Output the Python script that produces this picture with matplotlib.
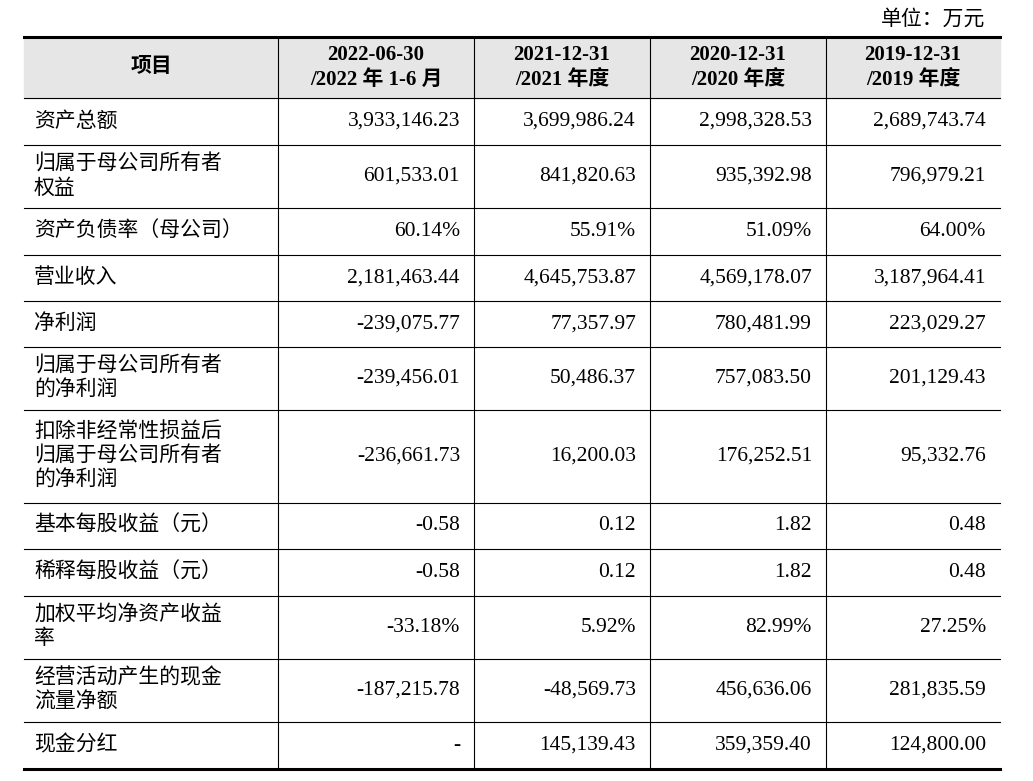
import matplotlib
matplotlib.use("Agg")
import matplotlib.pyplot as plt

unit = "单位：万元"
headers = ["项目", "2022-06-30\n/2022 年 1-6 月", "2021-12-31\n/2021 年度", "2020-12-31\n/2020 年度", "2019-12-31\n/2019 年度"]
items = ["资产总额", "归属于母公司所有者\n权益", "资产负债率（母公司）", "营业收入", "净利润",
         "归属于母公司所有者\n的净利润", "扣除非经常性损益后\n归属于母公司所有者\n的净利润",
         "基本每股收益（元）", "稀释每股收益（元）", "加权平均净资产收益\n率", "经营活动产生的现金\n流量净额", "现金分红"]
col_2022 = ["3,933,146.23", "601,533.01", "60.14%", "2,181,463.44", "-239,075.77", "-239,456.01", "-236,661.73", "-0.58", "-0.58", "-33.18%", "-187,215.78", "-"]
col_2021 = ["3,699,986.24", "841,820.63", "55.91%", "4,645,753.87", "77,357.97", "50,486.37", "16,200.03", "0.12", "0.12", "5.92%", "-48,569.73", "145,139.43"]
col_2020 = ["2,998,328.53", "935,392.98", "51.09%", "4,569,178.07", "780,481.99", "757,083.50", "176,252.51", "1.82", "1.82", "82.99%", "456,636.06", "359,359.40"]
col_2019 = ["2,689,743.74", "796,979.21", "64.00%", "3,187,964.41", "223,029.27", "201,129.43", "95,332.76", "0.48", "0.48", "27.25%", "281,835.59", "124,800.00"]

fam = ["Liberation Serif", "Noto Sans CJK SC"]
fig = plt.figure(figsize=(10.33, 7.81), dpi=100)
ax = fig.add_axes([0, 0, 1, 1])
ax.set_xlim(0, 1033); ax.set_ylim(781, 0); ax.axis("off")

xs = [24, 278, 474, 650, 826, 1000]
ys = [37, 98, 145, 208, 255, 301, 347, 410, 503, 549, 596, 659, 722, 769]

ax.add_patch(plt.Rectangle((xs[0], ys[0]), xs[-1]-xs[0], ys[1]-ys[0], color="#e6e6e6", zorder=0))
for i, y in enumerate(ys):
    lw = 2.2 if i in (0, len(ys)-1) else 0.8
    ax.plot([xs[0], xs[-1]], [y, y], color="black", lw=lw)
for x in xs[1:-1]:
    ax.plot([x, x], [ys[0], ys[-1]], color="black", lw=0.8)

ax.text(985, 20, unit, ha="right", va="center", fontsize=15, family=fam)
ax.text((xs[0]+xs[1])/2, (ys[0]+ys[1])/2, headers[0], ha="center", va="center", fontsize=15, family=fam, weight="bold")
for j in range(1, 5):
    ax.text((xs[j]+xs[j+1])/2, (ys[0]+ys[1])/2, headers[j], ha="center", va="center", fontsize=15,
            family=fam, weight="bold", linespacing=1.35)

cols = [col_2022, col_2021, col_2020, col_2019]
for i, it in enumerate(items):
    yc = (ys[i+1]+ys[i+2])/2
    ax.text(34, yc, it, ha="left", va="center", fontsize=15, family=fam, linespacing=1.3)
    for j, col in enumerate(cols):
        ax.text(xs[j+2]-14, yc, col[i], ha="right", va="center", fontsize=15.5, family=fam)

fig.savefig("out.png", dpi=100)
